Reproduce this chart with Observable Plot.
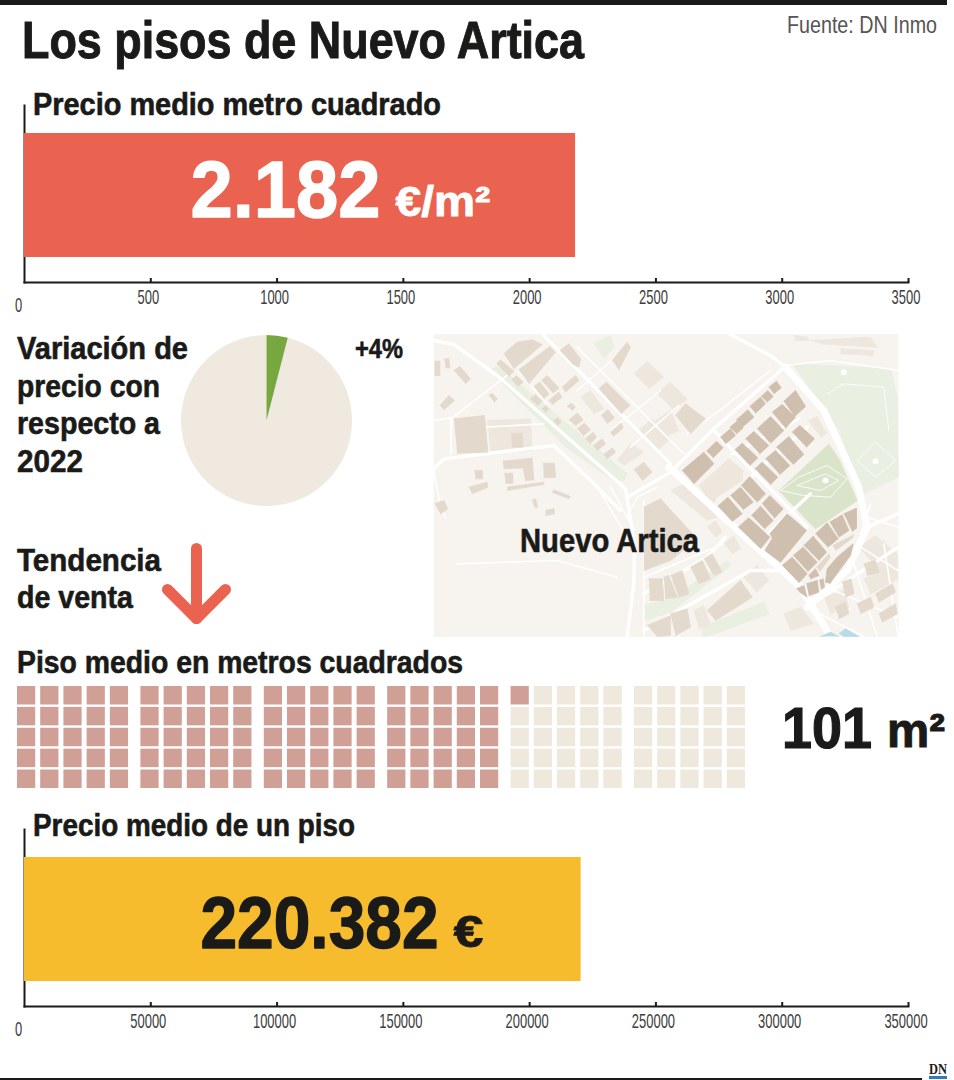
<!DOCTYPE html>
<html lang="es"><head><meta charset="utf-8">
<script src="https://cdn.jsdelivr.net/npm/d3@7"></script>
<script src="https://cdn.jsdelivr.net/npm/@observablehq/plot@0.6"></script>
<style>
html,body{margin:0;padding:0;background:#fff}
#page{position:relative;width:954px;height:1080px;overflow:hidden;font-family:"Liberation Sans Narrow","Liberation Sans",sans-serif;color:#1a1a18}
#page>div.plot{position:absolute}
.t{position:absolute;line-height:1;white-space:nowrap;transform-origin:0 50%;font-weight:700;-webkit-text-stroke:.6px #1a1a18}
.r{position:absolute}
svg{overflow:visible;background:transparent}
</style></head><body><div id="page"></div>
<script>
// ---------- data ----------
const priceSqm = 2182;
const priceSqmTicks = [500,1000,1500,2000,2500,3000,3500];
const priceFlat = 220382;
const priceFlatTicks = [50000,100000,150000,200000,250000,300000,350000];
const variation = [4, 96];
const waffleArea = 101;
const waffleTotal = 150;
const trendShaft = [[0,0],[0,70]];
const trendHead = [[-29,41],[0,70],[29,41]];
// map shapes, in map units
const mapBackground = [[10,12],[1403,12],[1403,918],[10,918]];
const mapParkLight = [
 [[1085,100],[1380,115],[1400,200],[1403,440],[1300,490],[1225,300]],
 [[175,118],[205,108],[590,430],[580,450],[540,445],[400,345]],
 [[640,825],[720,805],[890,690],[900,705],[720,845],[640,870]],
 [[815,890],[1000,815],[1015,850],[830,918],[815,918]],
 [[490,40],[540,15],[550,50],[520,85]],
 [[1325,655],[1360,630],[1385,675],[1345,695]]
];
const mapParkDark = [[[1195,340],[1225,385],[1280,510],[1155,595],[1045,480]]];
const mapParkPaths = [
 [[1050,480],[1105,440],[1190,405],[1250,445],[1200,500],[1120,495],[1050,480]],
 [[1100,465],[1185,430],[1225,450],[1170,480],[1100,465]],
 [[1280,390],[1335,335],[1395,390],[1335,440],[1280,390]],
 [[1190,190],[1240,160],[1360,170],[1375,300]]
];
const mapParkDots = [[1185,450],[1335,392],[1240,125]];
const mapBlocksDark = [
 [[755,420],[820,365],[850,400],[790,460]],[[828,362],[858,332],[878,352],[848,382]],
 [[870,320],[900,295],[915,315],[885,340]],[[898,290],[920,272],[938,292],[918,310]],
 [[918,268],[952,238],[970,260],[935,290]],[[958,228],[990,200],[1005,220],[975,248]],
 [[992,198],[1012,180],[1028,198],[1010,215]],[[1015,170],[1038,152],[1052,172],[1030,190]],
 [[1060,212],[1095,180],[1125,228],[1092,258]],[[1025,245],[1055,222],[1095,260],[1065,293]],
 [[980,295],[1020,258],[1060,300],[1020,338]],[[1085,305],[1108,285],[1152,325],[1128,350]],
 [[945,325],[970,303],[1015,345],[988,370]],[[913,358],[935,338],[982,382],[958,405]],
 [[1038,350],[1075,318],[1120,372],[1088,402]],[[1005,385],[1035,360],[1078,405],[1048,432]],
 [[973,415],[995,395],[1042,440],[1020,462]],[[932,465],[958,438],[1005,490],[980,515]],
 [[862,527],[892,500],[935,550],[905,573]],[[900,495],[930,470],[968,515],[938,537]],
 [[963,555],[990,527],[1028,570],[1002,595]],[[995,520],[1018,495],[1058,535],[1032,563]],
 [[923,590],[955,562],[1018,620],[990,655]],
 [[1018,610],[1070,550],[1128,600],[1050,695],[1003,660],[1025,625]],
 [[1055,705],[1085,680],[1130,730],[1105,757]],[[1088,675],[1118,650],[1160,695],[1132,723]],
 [[1120,645],[1148,617],[1188,665],[1165,690]],[[1155,610],[1190,577],[1223,625],[1192,650]],
 [[1198,575],[1235,553],[1255,600],[1225,620]],[[1240,550],[1278,533],[1278,593],[1265,603]],
 [[1185,755],[1190,715],[1220,680],[1268,640],[1260,675],[1230,715],[1198,760]],
 [[1135,735],[1155,715],[1165,735],[1140,745]],[[1098,775],[1120,765],[1130,800],[1108,785]],
 [[1128,760],[1160,750],[1165,785],[1135,795]],[[1167,750],[1178,745],[1182,770],[1172,777]]
];
const mapBlocksMid = [
 [[220,70],[260,35],[305,28],[335,42],[250,115]],[[265,118],[358,48],[375,65],[295,160]],
 [[198,100],[210,88],[250,122],[235,138]],[[243,148],[258,135],[278,155],[262,168]],
 [[310,168],[328,155],[355,190],[340,205]],[[333,150],[350,135],[385,172],[368,188]],
 [[395,170],[435,135],[445,150],[405,185]],[[300,205],[315,192],[335,213],[320,225]],
 [[355,210],[385,185],[395,200],[365,222]],[[335,235],[345,225],[355,235],[345,245]],
 [[410,228],[422,218],[435,230],[425,240]],[[370,270],[382,262],[392,275],[380,285]],
 [[388,60],[415,40],[450,85],[445,110],[425,100]],[[545,90],[590,35],[600,50],[565,118]],
 [[505,175],[528,155],[598,225],[572,250]],[[512,255],[532,238],[552,262],[530,280]],
 [[540,305],[572,278],[578,292],[548,318]],[[415,268],[440,248],[458,268],[435,285]],
 [[440,295],[462,278],[480,298],[458,315]],[[465,325],[488,305],[498,320],[478,340]],
 [[490,345],[515,325],[525,340],[500,360]],[[520,372],[545,352],[555,365],[530,385]],
 [[610,418],[640,395],[665,425],[635,450]],[[70,265],[162,255],[172,365],[80,368]],
 [[242,308],[275,308],[278,350],[245,350]],[[217,392],[305,383],[310,448],[285,450],[278,412],[220,415]],
 [[222,428],[247,428],[247,458],[225,458]],[[338,398],[372,398],[375,440],[340,442]],
 [[132,420],[155,420],[157,445],[135,445]],[[70,120],[88,108],[120,145],[105,160]],
 [[28,225],[55,195],[72,210],[40,238]],[[175,195],[185,188],[200,205],[192,215]],
 [[12,92],[28,92],[28,135],[12,135]],[[42,85],[55,85],[58,112],[45,112]],
 [[735,255],[765,220],[825,265],[780,310]],[[115,470],[170,455],[172,470],[125,490]],
 [[12,520],[40,510],[52,535],[30,550]],[[640,530],[690,505],[800,625],[720,690],[640,720]],
 [[655,745],[695,745],[700,810],[658,810]],[[720,735],[755,720],[775,790],[745,800]],
 [[700,740],[715,735],[740,800],[705,805]],[[780,710],[815,690],[840,745],[805,760]],
 [[820,685],[845,670],[875,725],[850,735]],[[830,840],[930,750],[965,800],[855,870]],
 [[720,850],[770,835],[780,890],[735,915]],[[650,885],[720,855],[720,915],[680,918]],
 [[1207,645],[1270,613],[1265,623],[1215,660]],[[1158,710],[1195,670],[1200,680],[1168,723]],
 [[1300,700],[1335,690],[1345,725],[1310,735]],[[1235,755],[1262,745],[1270,790],[1245,800]],
 [[1280,820],[1320,800],[1330,830],[1290,850]],[[1335,790],[1385,760],[1395,785],[1345,815]],
 [[1215,830],[1245,815],[1255,850],[1225,865]],[[1345,850],[1395,820],[1400,850],[1355,875]],
 [[230,470],[340,455],[340,462],[230,480]],[[370,478],[420,498],[415,505],[365,485]],
 [[305,510],[315,505],[322,530],[312,530]],[[345,540],[370,535],[372,550],[345,555]]
];
const mapBlocksLight = [
 [[805,465],[895,385],[938,420],[935,450],[860,500],[845,525]],
 [[1132,270],[1160,258],[1188,308],[1172,322]],
 [[610,130],[650,92],[700,140],[655,175]],[[680,190],[718,155],[770,205],[730,240]],
 [[625,300],[665,265],[720,325],[680,360]],[[675,270],[720,240],[745,300],[700,320]],
 [[560,390],[600,340],[640,365],[580,405]],[[450,200],[480,180],[520,235],[490,250]],
 [[720,480],[760,460],[860,560],[830,570]],[[830,590],[855,570],[875,605],[855,620]],
 [[880,640],[910,615],[930,655],[905,670]],[[940,740],[980,705],[1015,750],[978,785]],
 [[790,840],[820,825],[840,885],[805,895]],[[1285,650],[1335,615],[1400,670],[1400,730],[1360,735]],
 [[1060,850],[1110,830],[1150,880],[1080,900]],[[1180,800],[1240,780],[1255,830],[1200,850]],
 [[1300,745],[1395,700],[1403,745],[1320,790]],[[170,270],[300,265],[305,360],[180,365]],
 [[1090,15],[1130,20],[1135,30],[1095,30]],[[1230,55],[1330,60],[1330,75],[1230,70]],
 [[1140,30],[1320,20],[1340,50],[1170,40]]
];
const mapWater = [[[1170,918],[1200,905],[1225,918]],[[1225,910],[1245,895],[1285,918],[1240,918]]];
const mapRoadsMain = [
 [[715,410],[1110,770],[1200,918]],
 [[1065,110],[1180,240],[1285,470],[1310,590],[1250,720],[1130,830]]
];
const mapRoadsMid = [
 [[10,30],[70,42],[200,135],[585,475],[612,640],[610,760],[590,918]],
 [[590,500],[720,425],[850,295],[1060,112]],
 [[10,415],[40,385],[370,345],[480,450],[570,540]],
 [[900,12],[1020,75],[1065,110]],[[340,15],[720,400]],
 [[640,790],[830,680],[885,620]],[[640,900],[960,720],[1060,720]],
 [[1130,830],[1403,650]],[[1310,590],[1403,550]],
 [[850,300],[1130,590]],[[1000,620],[1140,490]],[[905,370],[1105,265]],[[960,440],[1130,290]]
];
const mapRoadsThin = [
 [[440,50],[760,370]],[[440,180],[590,50]],[[540,300],[690,180]],[[600,350],[745,225]],
 [[260,120],[350,220]],[[165,290],[340,280]],[[10,270],[60,262],[62,370]],[[60,370],[65,262],[230,135]],
 [[1065,105],[1200,90],[1403,120]],[[10,420],[30,530],[45,560]],[[590,560],[620,500],[680,470]],
 [[500,470],[590,620]],[[540,470],[612,600]],[[640,740],[880,640]],[[1290,650],[1403,720]],
 [[1210,780],[1403,860]],[[1130,830],[1300,918]],[[1270,700],[1340,918]],[[1360,640],[1403,918]],
 [[1310,560],[1403,590]],[[1320,520],[1290,610]],[[80,700],[380,690],[560,740]],[[640,510],[640,918]],
 [[770,310],[880,230],[1020,120]]
];
// ---------- helpers ----------
const page = document.getElementById("page");
const ink = "#1a1a18", tickInk = "#3d3d3d";
const narrow = '"Liberation Sans Narrow","Liberation Sans",sans-serif';
function place(svg, left, top){
  const d = document.createElement("div"); d.className = "plot";
  d.style.left = left+"px"; d.style.top = top+"px"; d.appendChild(svg); page.appendChild(d); return svg;
}
function label(text, x, baseline, size, width, opts={}){
  const d = document.createElement("div"); d.className = "t"; d.textContent = text;
  d.style.left = x+"px"; d.style.top = (baseline-0.8465*size)+"px"; d.style.fontSize = size+"px";
  Object.assign(d.style, opts); page.appendChild(d);
  const w = d.getBoundingClientRect().width;
  d.style.transform = `scaleX(${width/w})`;
  return d;
}
const polys = (list, key) => list.flatMap((p,i) => p.map(([x,y]) => ({x,y,id:key+i})));
function barChart({value, name, domain, ticks, fill, big, unit, textFill, dx, dxUnit, dyBig, dyUnit, top, bigSize, unitSize, widths}){
  const rows = [{name, value}];
  const svg = Plot.plot({
    width:954, height:207, marginLeft:24, marginRight:46, marginTop:5, marginBottom:25,
    x:{domain, range:[24,908]},
    y:{domain:[name], range:[33,157], axis:null, padding:0, round:false},
    marks:[
      Plot.frame({anchor:"left",stroke:ink,strokeWidth:2}),
      Plot.frame({anchor:"bottom",stroke:ink,strokeWidth:2}),
      Plot.barX(rows,{x:"value",y:"name",fill}),
      Plot.axisX({ticks, tickSize:-4, tickPadding:11, tickFormat:d=>String(d), label:null, stroke:ink, strokeWidth:2, fill:tickInk, fontSize:21, fontFamily:narrow, textAnchor:"middle"}),
      Plot.text([0],{x:d=>d, frameAnchor:"bottom", lineAnchor:"middle", dy:23, dx:-6, text:d=>String(d), fill:tickInk, fontSize:21, fontFamily:narrow}),
      Plot.text([big],{x:()=>0, y:()=>name, text:d=>d, dx, dy:dyBig, textAnchor:"start", fill:textFill, fontSize:bigSize, fontWeight:700, fontFamily:narrow, stroke:textFill, strokeWidth:1.4}),
      Plot.text([unit],{x:()=>0, y:()=>name, text:d=>d, dx:dxUnit, dy:dyUnit, textAnchor:"start", fill:textFill, fontSize:unitSize, fontWeight:700, fontFamily:narrow, stroke:textFill, strokeWidth:.8})
    ]
  });
  svg.querySelectorAll("text").forEach(t => {
    const s = t.textContent, tick = /^\d+$/.test(s);
    const w = widths[s] || (tick ? s.length*7.2 : 0);
    if (w) { t.setAttribute("textLength", w); t.setAttribute("lengthAdjust","spacingAndGlyphs"); }
    if (tick && s !== "0") t.setAttribute("dx", -2.5);
  });
  return place(svg, 0, top);
}
// ---------- frame ----------
for (const [l,t,w,h,c] of [[0,0,947,5,ink],[0,1078,922,2,ink],[929,1076,18,3,"#2f7db8"]]) {
  const r = document.createElement("div"); r.className="r";
  r.style.cssText += `left:${l}px;top:${t}px;width:${w}px;height:${h}px;background:${c}`;
  page.appendChild(r);
}
label("Los pisos de Nuevo Artica",22,58,52,562,{webkitTextStroke:"1px #1a1a18"});
label("Fuente: DN Inmo",787,33,24,150,{fontWeight:400,color:"#555",webkitTextStroke:"0"});
label("Precio medio metro cuadrado",33,115,31,408);
// ---------- price per square metre ----------
barChart({value:priceSqm,name:"Precio medio metro cuadrado",domain:[0,3500],ticks:priceSqmTicks,fill:"#ea6350",
  big:"2.182",unit:"€/m²",textFill:"#fff",dx:166,dxUnit:371,dyBig:-4,dyUnit:7,top:100,bigSize:80,unitSize:42,
  widths:{"2.182":190,"€/m²":95}});
// ---------- variation pie ----------
const slice = (a) => ({draw(ctx,size){ d3.arc().context(ctx)({innerRadius:0,outerRadius:Math.sqrt(size/Math.PI),startAngle:a.startAngle,endAngle:a.endAngle}); }});
const arcs = d3.pie().sort(null)(variation);
place(Plot.plot({width:192,height:180,margin:0,axis:null,marks:[
  Plot.dot([variation[1]],{frameAnchor:"middle",r:85.5,symbol:slice(arcs[1]),fill:"#efe9df",stroke:"none"}),
  Plot.dot([variation[0]],{frameAnchor:"middle",r:85.5,symbol:slice(arcs[0]),fill:"#76a83f",stroke:"none"})
]}),170,330);
label("Variación de",17,359,32,171);
label("precio con",17,397,32,143);
label("respecto a",17,434,32,143);
label("2022",17,472,32,66);
label("+"+variation[0]+"%",355,359,28,48);
// ---------- map ----------
const fillPoly = (list,key,fill) => Plot.line(polys(list,key),{x:"x",y:"y",z:"id",fill,stroke:fill,strokeWidth:.8});
const roadLine = (list,key,strokeWidth) => Plot.line(polys(list,key),{x:"x",y:"y",z:"id",stroke:"#fff",strokeWidth,fill:"none",strokeLinejoin:"round"});
place(Plot.plot({width:480,height:310,margin:0,x:{domain:[0,1440],range:[0,480],axis:null},y:{domain:[0,930],range:[0,310],axis:null},marks:[
  fillPoly([mapBackground],"bg","#f7f3ee"),
  fillPoly(mapParkLight,"pl","#e9efe1"),
  fillPoly(mapParkDark,"pd","#d9e4ca"),
  fillPoly(mapBlocksLight,"l","#eee7de"),
  roadLine(mapRoadsThin,"t",1.6),
  Plot.line(polys(mapParkPaths,"pp"),{x:"x",y:"y",z:"id",stroke:"#fff",strokeWidth:1,opacity:.85}),
  Plot.dot(mapParkDots,{x:d=>d[0],y:d=>d[1],r:3,fill:"#fff",stroke:"none"}),
  roadLine(mapRoadsMid,"r",3.4),
  roadLine(mapRoadsMain,"m",7),
  fillPoly(mapBlocksMid,"b","#e3d9cd"),
  fillPoly(mapBlocksDark,"d","#cfbfae"),
  fillPoly(mapWater,"w","#b9dbe8")
]}),430,330);
label("Nuevo Artica",520,552,34,179);
// ---------- trend ----------
label("Tendencia",17,571,32,144);
label("de venta",17,608,32,116);
place(Plot.plot({width:90,height:100,margin:0,x:{domain:[-45,45],axis:null,range:[0,90]},y:{domain:[-10,90],range:[0,100],axis:null},marks:[
  Plot.line(polys([trendShaft,trendHead],"a"),{x:"x",y:"y",z:"id",stroke:"#ea6350",strokeWidth:11,strokeLinecap:"round",strokeLinejoin:"round"})
]}),151,538);
// ---------- waffle ----------
label("Piso medio en metros cuadrados",17,673,31,446);
const cells = d3.range(waffleTotal).map(i => {
  const col = Math.floor(i/5);
  return {group:Math.floor(col/5), col:col%5, row:i%5, on:i<waffleArea};
});
place(Plot.plot({width:728,height:102,margin:0,
  fx:{domain:d3.range(6),paddingInner:0.1,paddingOuter:0,round:false,axis:null},
  x:{domain:d3.range(5),paddingInner:0.215,paddingOuter:0,round:false,axis:null},
  y:{domain:d3.range(5),paddingInner:0.115,paddingOuter:0,round:false,axis:null},
  marks:[Plot.cell(cells,{fx:"group",x:"col",y:"row",fill:d=>d.on?"#d0a096":"#efe8dd"})]
}),17,686);
label(String(waffleArea),782,748,58,90,{webkitTextStroke:"1.2px #1a1a18"});
label("m²",887,748,48,58,{webkitTextStroke:"1px #1a1a18"});
// ---------- flat price ----------
label("Precio medio de un piso",33,836,31,322);
barChart({value:priceFlat,name:"Precio medio de un piso",domain:[0,350000],ticks:priceFlatTicks,fill:"#f6bc2d",
  big:"220.382",unit:"€",textFill:ink,dx:176,dxUnit:429,dyBig:5,dyUnit:13,top:824,bigSize:72,unitSize:44,
  widths:{"220.382":238,"€":30}});
// ---------- logo ----------
label("DN",929,1075,14,18,{fontFamily:'"Liberation Serif",serif',webkitTextStroke:"0"});
</script></body></html>
